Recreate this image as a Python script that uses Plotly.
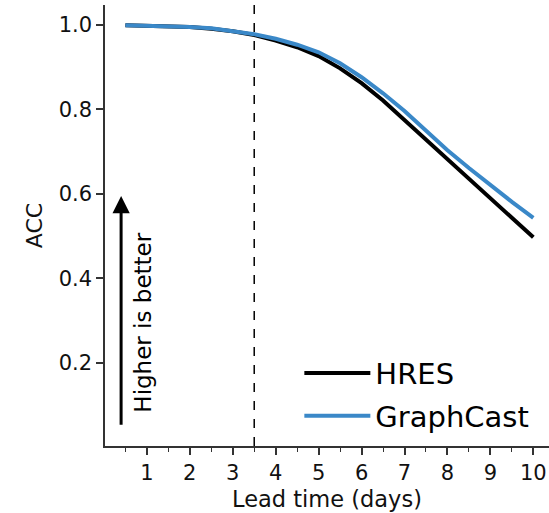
import plotly.graph_objects as go

lead_days = [0.5, 1.0, 1.5, 2.0, 2.5, 3.0, 3.5, 4.0, 4.5, 5.0, 5.5, 6.0, 6.5, 7.0, 7.5, 8.0, 8.5, 9.0, 9.5, 10.0]
hres_acc = [0.999, 0.998, 0.997, 0.995, 0.991, 0.985, 0.976, 0.963, 0.947, 0.926, 0.897, 0.862, 0.821, 0.775, 0.728, 0.680, 0.634, 0.588, 0.542, 0.497]
graphcast_acc = [0.999, 0.998, 0.997, 0.995, 0.992, 0.986, 0.978, 0.967, 0.953, 0.935, 0.909, 0.876, 0.838, 0.796, 0.750, 0.703, 0.661, 0.620, 0.581, 0.543]
x_ticks = [1, 2, 3, 4, 5, 6, 7, 8, 9, 10]
y_ticks = [0.2, 0.4, 0.6, 0.8, 1.0]
y_tick_labels = ["0.2", "0.4", "0.6", "0.8", "1.0"]
split_day = 3.5
arrow_x = 0.4
arrow_y = [0.05, 0.595]
note_pos = [0.91, 0.295]

FONT = "DejaVu Sans"

fig = go.Figure()
fig.add_trace(go.Scatter(x=lead_days, y=hres_acc, mode="lines", name="HRES",
                         line=dict(color="#000000", width=4), legendgroup="a"))
fig.add_trace(go.Scatter(x=lead_days, y=graphcast_acc, mode="lines", name="GraphCast",
                         line=dict(color="#3A88C8", width=4), legendgroup="b"))

fig.add_shape(type="line", x0=split_day, x1=split_day, xref="x", y0=0, y1=1, yref="paper",
              line=dict(color="#000000", width=1.5, dash="dash"))

fig.add_annotation(x=arrow_x, y=arrow_y[1], ax=arrow_x, ay=arrow_y[0], xref="x", yref="y",
                   axref="x", ayref="y", showarrow=True, arrowhead=2, arrowsize=1.15,
                   arrowwidth=3, arrowcolor="#000000", text="")
fig.add_annotation(x=note_pos[0], y=note_pos[1], xref="x", yref="y", text="Higher is better",
                   textangle=-90, showarrow=False, font=dict(family=FONT, size=23, color="#000000"))

fig.update_layout(
    width=549, height=513,
    margin=dict(l=105, r=0, t=5, b=67),
    paper_bgcolor="white", plot_bgcolor="white",
    font=dict(family=FONT, color="#111111"),
    legend=dict(x=0.967, y=0.01, xanchor="right", yanchor="bottom",
                font=dict(family=FONT, size=29, color="#000000"),
                bgcolor="rgba(0,0,0,0)", itemwidth=66, tracegroupgap=2),
    showlegend=True,
)
fig.update_xaxes(range=[0.025, 10.365], tickvals=x_ticks, ticks="outside", ticklen=7, tickwidth=1.5,
                 tickcolor="#333333", showline=True, linecolor="#333333", linewidth=1.5,
                 showgrid=False, zeroline=False, tickfont=dict(family=FONT, size=21, color="#111111"),
                 title=dict(text="Lead time (days)", font=dict(family=FONT, size=22.5, color="#111111"), standoff=7),
                 minor=dict(dtick=0.5, tick0=0, ticks="outside", ticklen=4, tickwidth=1.2, tickcolor="#333333", showgrid=False))
fig.update_yaxes(range=[0.003, 1.047], tickvals=y_ticks, ticktext=y_tick_labels, ticks="outside", ticklen=7,
                 tickwidth=1.5, tickcolor="#333333", showline=True, linecolor="#333333", linewidth=1.5,
                 showgrid=False, zeroline=False, tickfont=dict(family=FONT, size=21, color="#111111"),
                 title=dict(text="ACC", font=dict(family=FONT, size=22, color="#111111"), standoff=10))

fig.write_html("out.html")
